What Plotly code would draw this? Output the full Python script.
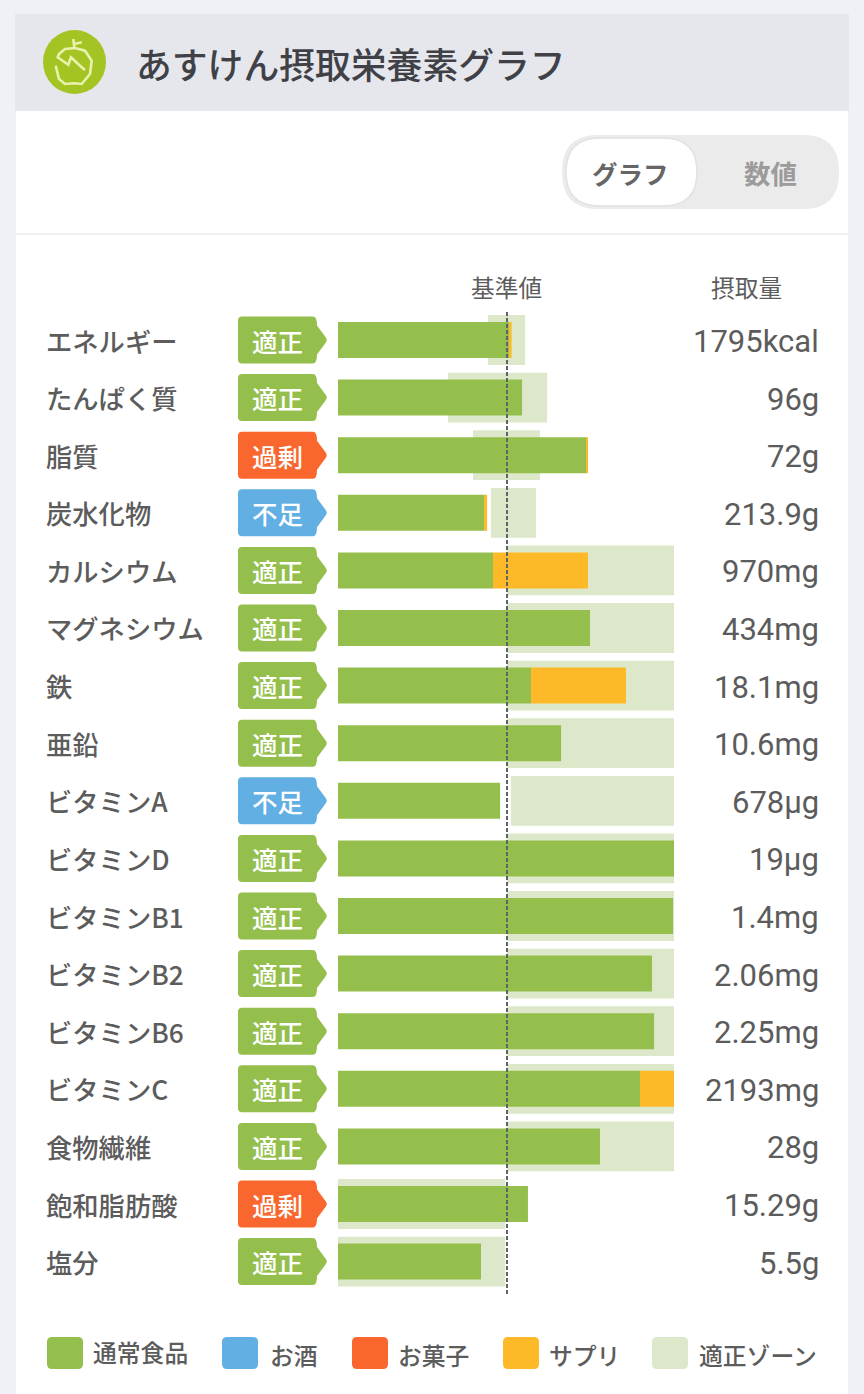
"""Intake nutrient chart: bars against the recommended zone, 100 = reference value."""

import plotly.graph_objects as go

W, H = 864, 1394
JP = "Noto Sans CJK JP"

nutrients = [
    "エネルギー", "たんぱく質", "脂質", "炭水化物", "カルシウム", "マグネシウム", "鉄", "亜鉛",
    "ビタミンA", "ビタミンD", "ビタミンB1", "ビタミンB2", "ビタミンB6", "ビタミンC",
    "食物繊維", "飽和脂肪酸", "塩分",
]
status = [
    "適正", "適正", "過剰", "不足", "適正", "適正", "適正", "適正",
    "不足", "適正", "適正", "適正", "適正", "適正", "適正", "過剰", "適正",
]
amounts = [
    "1795kcal", "96g", "72g", "213.9g", "970mg", "434mg", "18.1mg", "10.6mg",
    "678µg", "19µg", "1.4mg", "2.06mg", "2.25mg", "2193mg", "28g", "15.29g", "5.5g",
]
# all in % of the reference value
food = [101.2, 108.9, 147.3, 86.4, 91.7, 149.1, 114.2, 132.0, 95.9, 198.8, 198.2, 185.8, 187.0, 178.7, 155.0, 112.4, 84.6]
supplement = [1.5, 0, 0.6, 1.8, 56.2, 0, 56.2, 0, 0, 0, 0, 0, 0, 20.1, 0, 0, 0]
zone_low = [88.8, 65.1, 79.9, 90.5, 100, 100, 100, 100, 102.4, 100, 100, 100, 100, 100, 100, 0, 0]
zone_high = [110.7, 123.7, 119.5, 117.2, 198.8, 198.8, 198.8, 198.8, 198.8, 198.8, 198.8, 198.8, 198.8, 198.8, 198.8, 99, 99]

legend_labels = ["通常食品", "お酒", "お菓子", "サプリ", "適正ゾーン"]
legend_colors = ["#94bf4d", "#62b0e3", "#f9672e", "#fdb928", "#dde8cb"]
legend_box_x = [47, 222, 352, 503, 652]
legend_text_x = [91, 268, 396, 547, 697]
legend_text_y = [1351, 1354, 1354, 1354, 1354]

status_colors = {"適正": "#94bf4d", "過剰": "#f9672e", "不足": "#62b0e3"}
TEXT = "#5c5c5c"
ROW_TOP, ROW_STEP = 340, 57.6


def px(x):
    return x / W


def py(y):
    return 1 - y / H


def rect(x0, y0, x1, y1, color, r=0, line=None):
    """Rounded rectangle given in page pixels, returned as a paper-referenced shape."""
    border = dict(color=line, width=1.5) if line else dict(width=0)
    if r:
        path = (
            f"M {px(x0 + r)} {py(y0)} L {px(x1 - r)} {py(y0)} Q {px(x1)} {py(y0)} {px(x1)} {py(y0 + r)} "
            f"L {px(x1)} {py(y1 - r)} Q {px(x1)} {py(y1)} {px(x1 - r)} {py(y1)} "
            f"L {px(x0 + r)} {py(y1)} Q {px(x0)} {py(y1)} {px(x0)} {py(y1 - r)} "
            f"L {px(x0)} {py(y0 + r)} Q {px(x0)} {py(y0)} {px(x0 + r)} {py(y0)} Z"
        )
        return dict(type="path", xref="paper", yref="paper", path=path, fillcolor=color, line=border, layer="below")
    return dict(type="rect", xref="paper", yref="paper", x0=px(x0), x1=px(x1), y0=py(y0), y1=py(y1),
                fillcolor=color, line=border, layer="below")


def badge(yc, color):
    """Status tag with the small arrow on its right side."""
    x0, x1, tip, t, b, r = 238, 317, 327, yc - 23.5, yc + 23.5, 4
    path = (
        f"M {px(x0 + r)} {py(t)} L {px(x1 - r)} {py(t)} Q {px(x1)} {py(t)} {px(x1)} {py(t + r + 5)} "
        f"L {px(tip - 1.5)} {py(yc - 3)} Q {px(tip + 1)} {py(yc)} {px(tip - 1.5)} {py(yc + 3)} "
        f"L {px(x1)} {py(b - r - 5)} Q {px(x1)} {py(b)} {px(x1 - r)} {py(b)} "
        f"L {px(x0 + r)} {py(b)} Q {px(x0)} {py(b)} {px(x0)} {py(b - r)} "
        f"L {px(x0)} {py(t + r)} Q {px(x0)} {py(t)} {px(x0 + r)} {py(t)} Z"
    )
    return dict(type="path", xref="paper", yref="paper", path=path, fillcolor=color, line_width=0, layer="below")


def note(text, x, y, size, color=TEXT, anchor="left", font=JP, weight=None):
    return dict(
        text=text, x=px(x), y=py(y), xref="paper", yref="paper", xanchor=anchor, yanchor="middle",
        showarrow=False, font=dict(family=font, size=size, color=color, weight=weight),
    )


def polyline(points, width=2.6, color="#e9f2ad"):
    path = "M " + " L ".join(f"{px(x)} {py(y)}" for x, y in points)
    return dict(type="path", xref="paper", yref="paper", path=path, line=dict(color=color, width=width))


fig = go.Figure()
rows = list(range(len(nutrients)))

fig.add_trace(go.Bar(
    y=rows, x=[h - l for l, h in zip(zone_low, zone_high)], base=zone_low, orientation="h",
    width=0.865, marker=dict(color=legend_colors[4], line_width=0), name=legend_labels[4],
))
fig.add_trace(go.Bar(
    y=rows, x=food, base=[0] * len(rows), orientation="h",
    width=0.625, marker=dict(color=legend_colors[0], line_width=0), name=legend_labels[0],
))
fig.add_trace(go.Bar(
    y=rows, x=supplement, base=food, orientation="h",
    width=0.625, marker=dict(color=legend_colors[3], line_width=0), name=legend_labels[3],
))

shapes = [
    rect(15, 14, 849, 111, "#e6e7ec"),
    rect(16, 111, 848, H, "#ffffff"),
    rect(16, 233, 848, 235, "#f0f0f0"),
    rect(562, 135, 839, 209, "#ebebeb", r=36),
    rect(566, 138, 697, 206, "#ffffff", r=34, line="#e2e2e2"),
    dict(type="circle", xref="paper", yref="paper", x0=px(43), x1=px(106), y0=py(30), y1=py(94),
         fillcolor="#a3c423", line_width=0),
    polyline([(55.7, 65.7), (59, 79), (65, 84), (74.3, 83.3), (81.7, 84), (90, 74), (91.7, 60.7), (85, 50.7),
              (75, 48), (65, 49), (59, 54), (57.7, 57.3), (68.3, 64.7), (71, 57.3), (80, 65.7), (85, 70)]),
    polyline([(73.3, 39), (74.3, 47.3)]),
    polyline([(74.3, 44), (81.7, 42.3)]),
    # reference value line
    dict(type="line", xref="x", yref="paper", x0=100, x1=100, y0=py(312), y1=py(1295),
         line=dict(color="#5f646a", width=2, dash="4px,2px"), layer="above"),
]

annotations = [
    note("あすけん摂取栄養素グラフ", 133.5, 63, 35.8, color="#3f4147", weight=500),
    note("グラフ", 630.5, 172, 25.5, color="#666666", anchor="center", weight="bold"),
    note("数値", 770.5, 172, 26.5, color="#9b9b9b", anchor="center", weight="bold"),
    note("基準値", 506.5, 287, 23.7, anchor="center"),
    note("摂取量", 746.5, 287, 23.7, anchor="center"),
]

for i, name in enumerate(nutrients):
    yc = ROW_TOP + i * ROW_STEP
    shapes.append(badge(yc, status_colors[status[i]]))
    annotations.append(note(name, 44, yc, 26.3, weight=500))
    annotations.append(note(status[i], 277.5, yc, 25.5, color="#ffffff", anchor="center", weight=500))
    annotations.append(note(amounts[i], 820.5, yc + 1.5, 31, anchor="right", font="Roboto"))

for label, color, box_x, text_x, text_y in zip(
    legend_labels, legend_colors, legend_box_x, legend_text_x, legend_text_y
):
    shapes.append(rect(box_x, 1337, box_x + 36, 1369, color, r=5))
    annotations.append(note(label, text_x, text_y, 23.8, weight=500))

fig.update_layout(
    width=W,
    height=H,
    margin=dict(l=0, r=0, t=0, b=0),
    paper_bgcolor="#f0f1f7",
    plot_bgcolor="rgba(0,0,0,0)",
    barmode="overlay",
    showlegend=False,
    shapes=shapes,
    annotations=annotations,
    xaxis=dict(domain=[px(338), px(674)], range=[0, 198.8], visible=False, fixedrange=True),
    yaxis=dict(
        domain=[py(ROW_TOP + 16.5 * ROW_STEP), py(ROW_TOP - 0.5 * ROW_STEP)],
        range=[16.5, -0.5], visible=False, fixedrange=True,
    ),
)
fig.update_traces(hoverinfo="skip")

fig.write_html("out.html", config={"displayModeBar": False}, post_script="document.body.style.margin='0';")
